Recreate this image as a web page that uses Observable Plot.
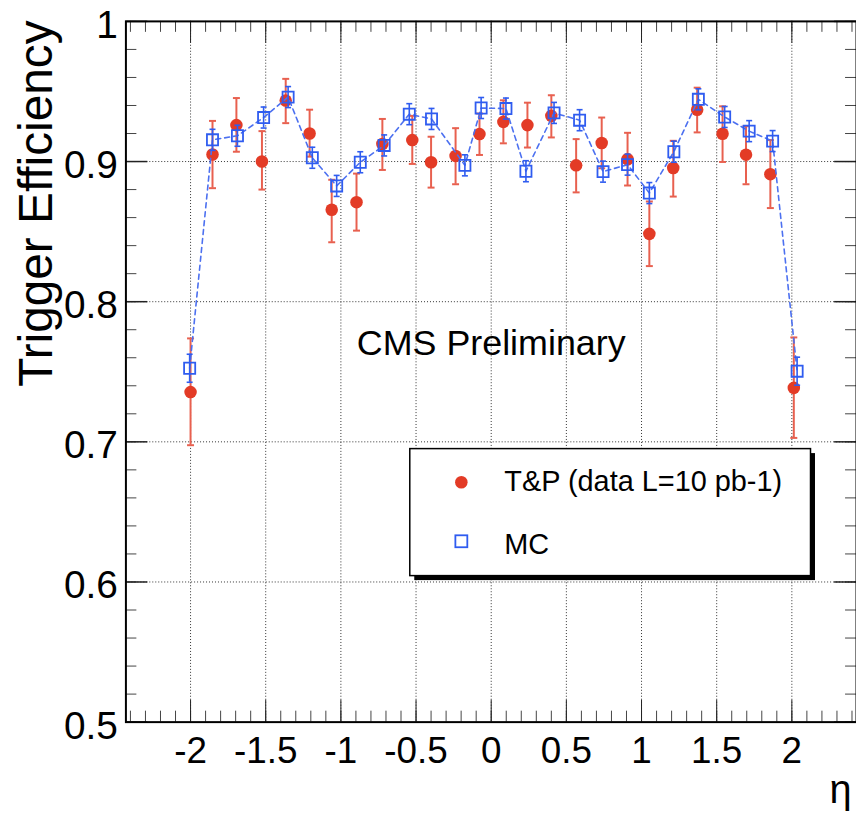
<!DOCTYPE html>
<html>
<head>
<meta charset="utf-8">
<script src="https://cdn.jsdelivr.net/npm/d3@7"></script>
<script src="https://cdn.jsdelivr.net/npm/@observablehq/plot@0.6"></script>
<style>
  html, body { margin: 0; padding: 0; background: #fff; overflow: hidden; }
  #chart { width: 856px; height: 816px; overflow: hidden; }
</style>
</head>
<body>
<div id="chart"></div>
<script>
// ---- Data: T&P (data L=10 pb-1) ----
const dataEta = [-2.000, -1.854, -1.695, -1.525, -1.367, -1.208, -1.061, -0.896, -0.724, -0.525, -0.400, -0.237, -0.078,
                  0.081, 0.241, 0.400, 0.565, 0.735, 0.907, 1.052, 1.211, 1.370, 1.539, 1.695, 1.857, 2.013];
const dataEff = [0.7355, 0.905, 0.926, 0.900, 0.9435, 0.920, 0.8656, 0.871, 0.9125, 0.9153, 0.8995, 0.904, 0.9196,
                 0.9283, 0.926, 0.9326, 0.8973, 0.9132, 0.9016, 0.8484, 0.8954, 0.937, 0.9198, 0.9049, 0.891, 0.7385];
const dataLo  = [0.6976, 0.881, 0.907, 0.880, 0.9274, 0.9035, 0.8424, 0.8507, 0.894, 0.8983, 0.8814, 0.8838, 0.9047,
                 0.913, 0.910, 0.9172, 0.878, 0.8952, 0.8829, 0.8254, 0.875, 0.9208, 0.8997, 0.8838, 0.8668, 0.7028];
const dataHi  = [0.7738, 0.929, 0.9453, 0.9217, 0.959, 0.937, 0.887, 0.8914, 0.9304, 0.9326, 0.9177, 0.9238, 0.9343,
                 0.9437, 0.942, 0.9473, 0.916, 0.9314, 0.9205, 0.8715, 0.9148, 0.9527, 0.9394, 0.9252, 0.9153, 0.7745];

// ---- Data: MC ----
const mcEta = [-2.006, -1.854, -1.688, -1.514, -1.351, -1.190, -1.028, -0.871, -0.712, -0.545, -0.397, -0.175, -0.067,
                0.098, 0.231, 0.418, 0.588, 0.744, 0.907, 1.052, 1.215, 1.378, 1.553, 1.716, 1.872, 2.035];
const mcEff = [0.7525, 0.9155, 0.9184, 0.9314, 0.946, 0.9027, 0.8826, 0.8995, 0.9115, 0.9338, 0.9304, 0.8973, 0.9382,
               0.9378, 0.8931, 0.9347, 0.9295, 0.8928, 0.8978, 0.8775, 0.907, 0.9444, 0.9318, 0.9217, 0.9146, 0.7504];
const mcErr = [0.010, 0.0075, 0.0075, 0.0075, 0.0075, 0.0075, 0.0075, 0.0075, 0.0075, 0.0075, 0.0075, 0.0075, 0.0075,
               0.0075, 0.0075, 0.0075, 0.0075, 0.0075, 0.0075, 0.0075, 0.0075, 0.0075, 0.0075, 0.0075, 0.0075, 0.010];

// ---- Axes ----
const xMajor = [-2, -1.5, -1, -0.5, 0, 0.5, 1, 1.5, 2];
const xLabels = ["-2", "-1.5", "-1", "-0.5", "0", "0.5", "1", "1.5", "2"];
const xMinor = d3.range(-24, 25).map(i => i / 10);
const yMajor = [0.5, 0.6, 0.7, 0.8, 0.9, 1.0];
const yLabels = ["0.5", "0.6", "0.7", "0.8", "0.9", "1"];
const yGrid = [0.6, 0.7, 0.8, 0.9];
const yMinor = d3.range(25, 51).map(i => i / 50);

const xTitle = "η";
const yTitle = "Trigger Efficiency";
const annotation = "CMS Preliminary";
const legendLabels = ["T&P (data L=10 pb-1)", "MC"];

// ---- Tables ----
const data = dataEta.map((x, i) => ({x, y: dataEff[i], lo: dataLo[i], hi: dataHi[i]}));
const mc = mcEta.map((x, i) => ({x, y: mcEff[i], lo: mcEff[i] - mcErr[i], hi: mcEff[i] + mcErr[i]}));
const xTicks = xMajor.map((v, i) => ({v, label: xLabels[i]}));
const yTicks = yMajor.map((v, i) => ({v, label: yLabels[i]}));

const W = 860, H = 816, mL = 126, mT = 21, mB = 91, mR = 0;
const plotW = W - mL - mR, plotH = H - mT - mB;
const FONT = "'Liberation Sans', Arial, Helvetica, sans-serif";
const RED = "#e33b26", RED_BAR = "#e8604f", BLUE = "#2f5cf0", BLUE_LINE = "#4c70f0";

const cap = {draw(ctx, size) { const r = Math.sqrt(size / Math.PI); ctx.moveTo(-r, 0); ctx.lineTo(r, 0); }};

const plot = Plot.plot({
  width: W, height: H,
  marginLeft: mL, marginRight: mR, marginTop: mT, marginBottom: mB,
  x: {domain: [-2.43, 2.43], axis: null},
  y: {domain: [0.5, 1.0], axis: null},
  style: {fontFamily: FONT, background: "white", color: "black"},
  marks: [
    // grid
    Plot.ruleX(xMajor, {x: d => d, stroke: "#333", strokeWidth: 1, strokeDasharray: "1,2"}),
    Plot.ruleY(yGrid, {y: d => d, stroke: "#333", strokeWidth: 1, strokeDasharray: "1,2"}),
    // ticks (inward), bottom & top
    Plot.tickX(xMinor, {x: d => d, insetTop: plotH - 11, stroke: "#444"}),
    Plot.tickX(xMinor, {x: d => d, insetBottom: plotH - 11, stroke: "#444"}),
    Plot.tickX(xMajor, {x: d => d, insetTop: plotH - 22, stroke: "#222"}),
    Plot.tickX(xMajor, {x: d => d, insetBottom: plotH - 22, stroke: "#222"}),
    // ticks (inward), left & right
    Plot.tickY(yMinor, {y: d => d, insetRight: plotW - 11, stroke: "#444"}),
    Plot.tickY(yMinor, {y: d => d, insetLeft: plotW - 11, stroke: "#444"}),
    Plot.tickY(yMajor, {y: d => d, insetRight: plotW - 22, stroke: "#222", strokeWidth: 1.5}),
    Plot.tickY(yMajor, {y: d => d, insetLeft: plotW - 22, stroke: "#222", strokeWidth: 1.5}),
    Plot.frame({stroke: "black", strokeWidth: 2}),
    // tick labels
    Plot.text(xTicks, {x: "v", text: "label", frameAnchor: "bottom", lineAnchor: "top", dy: 15, fontSize: 37, fill: "black"}),
    Plot.text(yTicks, {y: "v", text: "label", frameAnchor: "left", textAnchor: "end", lineAnchor: "middle", dx: -8, dy: 4, fontSize: 39, fill: "black"}),
    // titles
    Plot.text([yTitle], {frameAnchor: "top-left", text: d => d, rotate: -90, textAnchor: "end", lineAnchor: "bottom", dx: -74, dy: -1, fontSize: 48, fill: "black"}),
    Plot.text([xTitle], {frameAnchor: "bottom-right", text: d => d, textAnchor: "end", lineAnchor: "bottom", dx: -5, dy: 81, fontSize: 40, fill: "black"}),
    Plot.text([annotation], {frameAnchor: "top-left", text: d => d, textAnchor: "start", lineAnchor: "bottom", dx: 232, dy: 335, fontSize: 36, fill: "black"}),
    // data (T&P)
    Plot.ruleX(data, {x: "x", y1: "lo", y2: "hi", stroke: RED_BAR, strokeWidth: 2}),
    Plot.dot(data, {x: "x", y: "lo", symbol: cap, r: 3.5, stroke: RED_BAR, strokeWidth: 2}),
    Plot.dot(data, {x: "x", y: "hi", symbol: cap, r: 3.5, stroke: RED_BAR, strokeWidth: 2}),
    Plot.dot(data, {x: "x", y: "y", r: 6.3, fill: RED, stroke: "none"}),
    // MC
    Plot.line(mc, {x: "x", y: "y", stroke: BLUE_LINE, strokeWidth: 1.6, strokeDasharray: "5,4"}),
    Plot.ruleX(mc, {x: "x", y1: "lo", y2: "hi", stroke: BLUE, strokeWidth: 1.6}),
    Plot.dot(mc, {x: "x", y: "lo", symbol: cap, r: 3, stroke: BLUE, strokeWidth: 1.6}),
    Plot.dot(mc, {x: "x", y: "hi", symbol: cap, r: 3, stroke: BLUE, strokeWidth: 1.6}),
    Plot.dot(mc, {x: "x", y: "y", symbol: "square", r: 6.3, fill: "none", stroke: BLUE, strokeWidth: 1.8})
  ]
});

document.getElementById("chart").appendChild(plot);

// ---- Legend box (drawn into the same SVG) ----
const svg = d3.select(plot);
const lg = svg.append("g").attr("font-family", FONT).attr("text-anchor", "start");
const bx = 411.7, by = 450.7, bw = 402.6, bh = 127.6;
lg.append("rect").attr("x", bx + 4.5).attr("y", by + 4.5).attr("width", bw).attr("height", bh).attr("fill", "black");
lg.append("rect").attr("x", bx).attr("y", by).attr("width", bw).attr("height", bh).attr("fill", "white").attr("stroke", "black").attr("stroke-width", 1.5);
lg.append("circle").attr("cx", 463.5).attr("cy", 484.5).attr("r", 6.3).attr("fill", RED);
lg.append("rect").attr("x", 457.5).attr("y", 537.8).attr("width", 12).attr("height", 12).attr("fill", "none").attr("stroke", BLUE).attr("stroke-width", 1.8);
lg.append("text").attr("x", 506.7).attr("y", 493.5).attr("font-size", 29).attr("fill", "black").attr("text-anchor", "start").text(legendLabels[0]);
lg.append("text").attr("x", 506.7).attr("y", 556.5).attr("font-size", 29).attr("fill", "black").attr("text-anchor", "start").text(legendLabels[1]);
</script>
</body>
</html>
